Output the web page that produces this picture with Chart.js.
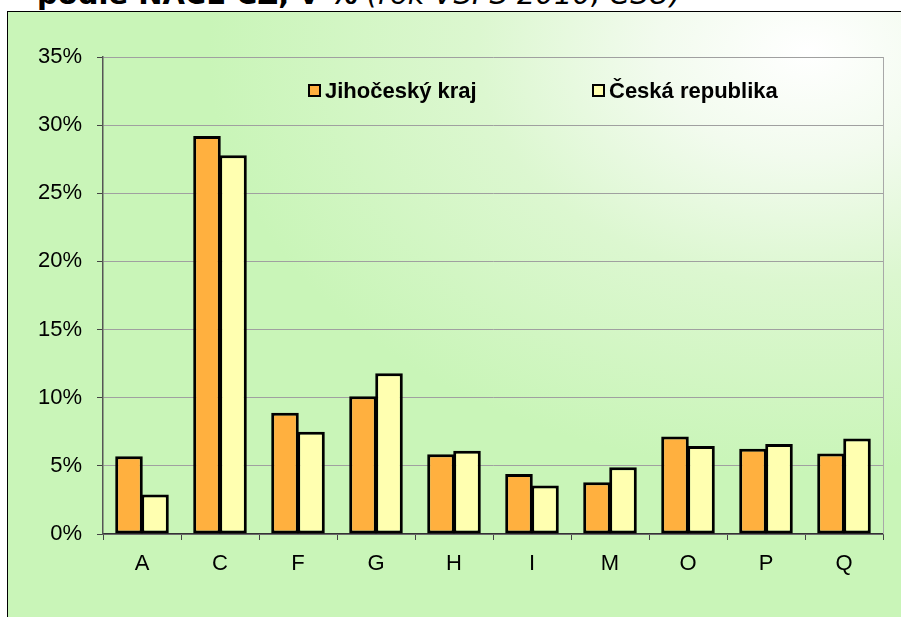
<!DOCTYPE html>
<html>
<head>
<meta charset="utf-8">
<script src="https://cdn.jsdelivr.net/npm/chart.js@4"></script>
<style>
  html, body { margin:0; padding:0; width:901px; height:617px; overflow:hidden; background:#ffffff; }
  #frame { position:absolute; left:7px; top:11px; width:920px; height:640px; border:1px solid #000;
    background: radial-gradient(ellipse 600px 420px at 800px 40px, #ffffff 0%, #f2fbee 25%, #dcf7d0 55%, #c9f5b8 100%); }
  #title { position:absolute; left:37px; top:-20px; white-space:nowrap; font-family:"DejaVu Sans", sans-serif; font-size:29px; line-height:29px; color:#000; }
  #title b { font-weight:bold; }
  #title i { font-weight:normal; font-style:italic; }
  #wrap { position:absolute; left:0; top:0; width:901px; height:617px; }
  .leg { position:absolute; top:79px; font-family:"Liberation Sans", Arial, sans-serif; font-weight:bold; font-size:22px; line-height:24px; color:#000; white-space:nowrap; }
  .sw { display:inline-block; width:9px; height:9px; border:2px solid #000; margin-right:4px; vertical-align:1px; }
</style>
</head>
<body>
<div id="frame"></div>
<div id="title"><b>podle NACE CZ, v %</b> <i>(rok VŠPS 2010, ČSÚ)</i></div>
<div id="wrap"><canvas id="c" width="901" height="617"></canvas></div>
<div class="leg" style="left:308px;"><span class="sw" style="background:#FFB03F"></span>Jihočeský kraj</div>
<div class="leg" style="left:592px;"><span class="sw" style="background:#FFFFB0"></span>Česká republika</div>
<script>
const categories = ["A","C","F","G","H","I","M","O","P","Q"];
const jihocesky = [5.7, 29.2, 8.9, 10.1, 5.85, 4.4, 3.8, 7.15, 6.25, 5.9];
const ceskaRep  = [2.9, 27.8, 7.5, 11.8, 6.1, 3.55, 4.9, 6.45, 6.6, 7.0];
const seriesNames = ["Jihočeský kraj", "Česká republika"];
const yTicks = [0,5,10,15,20,25,30,35];

const plotBorder = {
  id: 'plotBorder',
  beforeDatasetsDraw(chart) {
    const a = chart.chartArea, ctx = chart.ctx;
    ctx.save();
    ctx.strokeStyle = '#a8a8a8';
    ctx.lineWidth = 1;
    ctx.beginPath();
    ctx.moveTo(Math.round(a.right)+0.5, a.top);
    ctx.lineTo(Math.round(a.right)+0.5, a.bottom);
    ctx.stroke();
    ctx.restore();
  }
};

new Chart(document.getElementById('c'), {
  type: 'bar',
  data: {
    labels: categories,
    datasets: [
      { label: seriesNames[0], data: jihocesky, backgroundColor: '#FFB03F', borderColor: '#000', borderWidth: 3, borderSkipped: false },
      { label: seriesNames[1], data: ceskaRep, backgroundColor: '#FFFFB0', borderColor: '#000', borderWidth: 3, borderSkipped: false }
    ]
  },
  options: {
    responsive: false,
    animation: false,
    events: [],
    layout: { padding: { left: 0, top: 57, right: 18, bottom: 0 } },
    datasets: { bar: { categoryPercentage: 0.667, barPercentage: 1.06 } },
    plugins: { legend: { display: false }, tooltip: { enabled: false }, title: { display: false } },
    scales: {
      x: {
        afterFit(s) { s.height = 617 - 534; },
        grid: { drawOnChartArea: false, drawTicks: true, tickLength: 6, tickColor: '#444', offset: true },
        border: { color: '#333', width: 1.5 },
        ticks: { color: '#000', padding: 11, font: { family: '"Liberation Sans", Arial, sans-serif', size: 22 } }
      },
      y: {
        min: 0, max: 35,
        afterFit(s) { s.width = 103; },
        afterBuildTicks(s) { s.ticks = yTicks.map(v => ({ value: v })); },
        grid: { color: '#a0a0a0', lineWidth: 1, tickLength: 6, tickColor: '#444' },
        border: { color: '#555', width: 1.5 },
        ticks: { color: '#000', padding: 15, callback: v => v + '%', font: { family: '"Liberation Sans", Arial, sans-serif', size: 22 } }
      }
    }
  },
  plugins: [plotBorder]
});
</script>
</body>
</html>
